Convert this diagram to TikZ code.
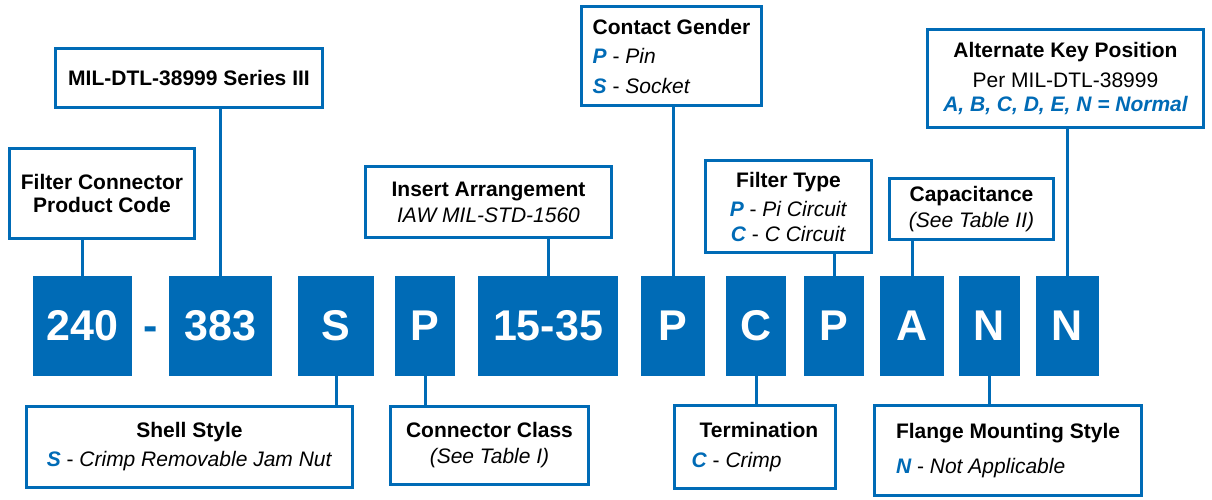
\documentclass[tikz,border=0pt]{standalone}
\usepackage{fontspec}
\setmainfont{Liberation Sans}
\usetikzlibrary{positioning}
\definecolor{codeblue}{RGB}{0,107,182}
\newcommand{\opt}[1]{\textcolor{codeblue}{\bfseries\itshape #1}}

\begin{document}
\begin{tikzpicture}[x=1pt,y=-1pt,
      code/.style={fill=codeblue,text=white,inner sep=0pt,minimum height=100pt,
        font=\fontsize{43}{43}\selectfont\bfseries},
      field/.style={draw=codeblue,fill=white,line width=3.4pt,inner sep=4pt,
        align=center,font=\fontsize{21}{27}\selectfont},
      link/.style={draw=codeblue,line width=3pt}
    ]
    \useasboundingbox (0,0) rectangle (1212,500);
    % One row of code boxes, then the fields hanging above and below it.
    \foreach \n/\x/\w/\t in {
      c240/82.5/99/240, c383/220.5/103/383, cS/336/76/S, cP1/425/60/P,
      c1535/548/140/15-35, cP2/673/64/P, cC/756/60/C, cP3/834/60/P,
      cA/912/64/A, cN1/989.5/61/N, cN2/1067.5/63/N}{
      \node[code,minimum width=\w pt] (\n) at (\x,326) {\t};
    }
    \node[text=codeblue,inner sep=0pt,font=\fontsize{43}{43}\selectfont\bfseries]
      (dash) at (151,326) {\vphantom{0}-};

    \node[field,minimum width=184.6pt,minimum height=89.6pt] (prod) at (102,193.5)
      {\textbf{Filter Connector}\\[-4pt]\textbf{Product Code}};
    \node[field,minimum width=266.6pt,minimum height=58.6pt] (series) at (189,78)
      {\textbf{MIL-DTL-38999 Series III}};
    \node[field,minimum width=245.6pt,minimum height=70.6pt] (insert) at (488.5,202)
      {\textbf{Insert Arrangement}\\[-1pt]\textit{IAW MIL-STD-1560}};
    \node[field,align=left,minimum width=179.6pt,minimum height=98.6pt] (gender)
      at (671.5,56)
      {\textbf{Contact Gender}\\[2pt]\opt{P} - \textit{Pin}\\[3pt]\opt{S} - \textit{Socket}};
    \node[field,minimum width=165.6pt,minimum height=91.6pt] (ftype) at (788.5,206.5)
      {\textbf{Filter Type}\\[2pt]\opt{P} - \textit{Pi Circuit}\\[-2pt]\opt{C} - \textit{C Circuit}};
    \node[field,minimum width=163.6pt,minimum height=60.6pt] (capac) at (971.5,209)
      {\textbf{Capacitance}\\[-1pt]\textit{(See Table II)}};
    \node[field,minimum width=275.6pt,minimum height=97.6pt] (altkey) at (1065.5,78.5)
      {\textbf{Alternate Key Position}\\[3pt]Per MIL-DTL-38999\\[-3pt]\opt{A, B, C, D, E, N = Normal}};

    \node[field,minimum width=325.6pt,minimum height=80.6pt] (shell) at (189.5,447)
      {\textbf{Shell Style}\\[2pt]\opt{S} - \textit{Crimp Removable Jam Nut}};
    \node[field,minimum width=197.6pt,minimum height=77.6pt] (cclass) at (489.5,445.5)
      {\textbf{Connector Class}\\[-1pt]\textit{(See Table I)}};
    \node[field,align=left,minimum width=160.6pt,minimum height=82.6pt] (term)
      at (755,447)
      {\hspace*{8pt}\textbf{Termination}\\[3pt]\opt{C} - \textit{Crimp}};
    \node[field,align=left,minimum width=266.6pt,minimum height=89.6pt] (flange)
      at (1008,450.5)
      {\textbf{Flange Mounting Style}\\[8pt]\opt{N} - \textit{Not Applicable}};

    \foreach \f/\c in {prod/c240,series/c383,insert/c1535,gender/cP2,
      ftype/cP3,capac/cA,altkey/cN2}{
      \draw[link] (\c.north |- \f.south) -- (\c.north);
    }
    \foreach \f/\c in {shell/cS,cclass/cP1,term/cC,flange/cN1}{
      \draw[link] (\c.south) -- (\c.south |- \f.north);
    }
  \end{tikzpicture}
\end{document}
